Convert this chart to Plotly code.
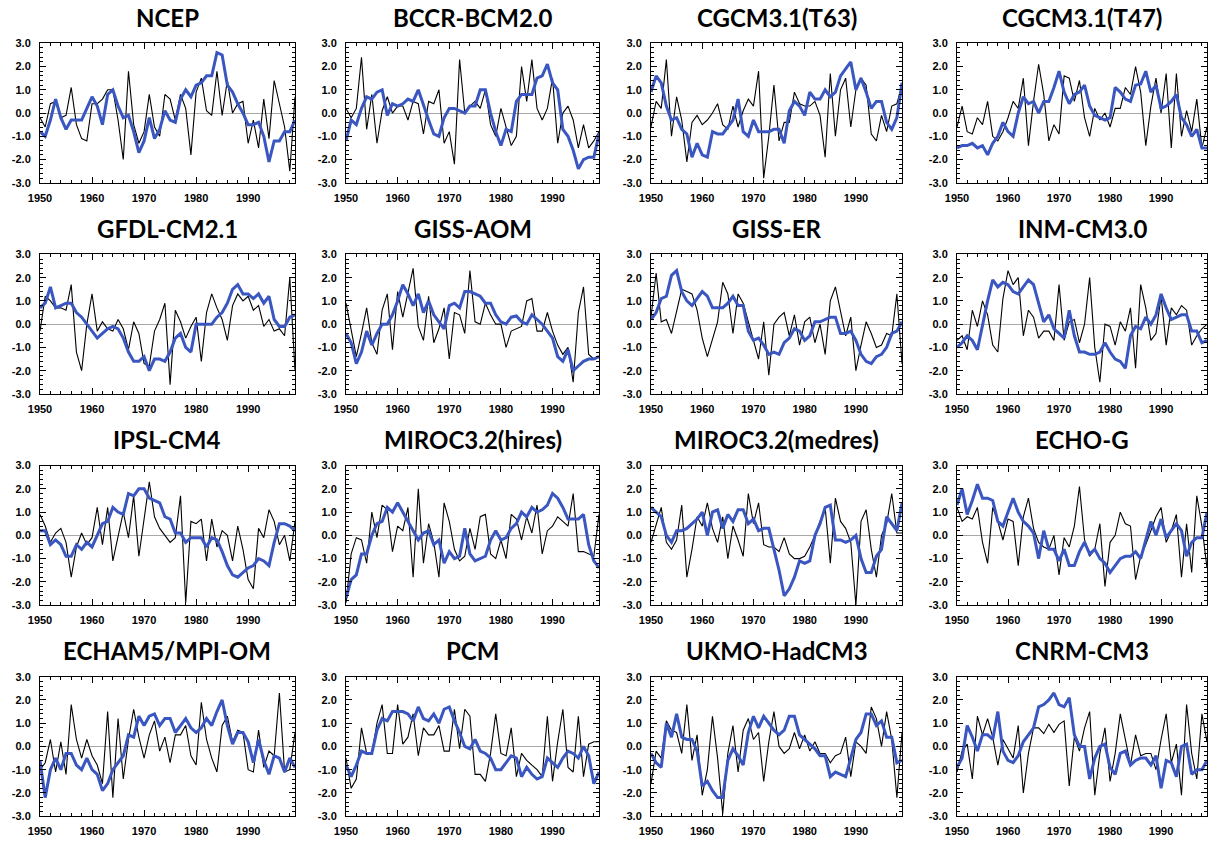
import plotly.graph_objects as go

years = list(range(1950, 2000))
x_tick_vals = [1950, 1960, 1970, 1980, 1990]
x_tick_text = ["1950", "1960", "1970", "1980", "1990"]
y_tick_vals = [-3, -2, -1, 0, 1, 2, 3]
y_tick_text = ["-3.0", "-2.0", "-1.0", "0.0", "1.0", "2.0", "3.0"]

titles = ["NCEP", "BCCR-BCM2.0", "CGCM3.1(T63)", "CGCM3.1(T47)",
          "GFDL-CM2.1", "GISS-AOM", "GISS-ER", "INM-CM3.0",
          "IPSL-CM4", "MIROC3.2(hires)", "MIROC3.2(medres)", "ECHO-G",
          "ECHAM5/MPI-OM", "PCM", "UKMO-HadCM3", "CNRM-CM3"]

ncep_annual = [-0.2, -0.6, 0.4, 0.5, -0.2, -0.1, 1.1, -0.5, -1.1, -1.2,
               0.4, 0.4, 0.6, 1.0, 1.0, -0.3, -2.0, 1.8, -0.5, -1.3,
               -0.8, 0.8, -0.6, -1.0, 0.8, 0.6, -0.3, 0.8, 0.2, -1.8,
               0.9, 1.5, 0.1, -0.1, 1.8, -0.1, 1.4, 0.0, 0.4, 0.5,
               -1.3, -0.3, -1.5, 0.6, -1.1, 1.4, 0.4, -0.6, -2.5, 0.7]
ncep_smooth = [-0.8, -1.0, -0.3, 0.6, -0.2, -0.7, -0.3, -0.3, -0.3, 0.2,
               0.7, 0.3, -0.5, 0.8, 1.0, 0.3, -0.2, -0.1, -0.8, -1.7,
               -1.2, -0.2, -1.1, -0.7, 0.1, -0.3, -0.4, 0.6, 1.0, 0.7,
               1.2, 1.3, 1.6, 1.6, 2.6, 2.5, 1.2, 0.9, 0.4, 0.0,
               -0.5, -0.5, -0.4, -1.0, -2.1, -1.2, -1.2, -0.8, -0.8, -0.3]

bccr_annual = [0.2, -0.2, 0.2, 2.4, -0.7, 0.8, -1.3, 0.1, 0.7, 0.0,
               0.3, 0.3, -0.3, 0.5, 0.4, -0.9, 0.5, 0.4, 1.0, -1.3,
               -0.8, -2.2, 2.3, 0.0, 0.3, 0.5, 0.2, 1.0, -0.5, -1.0,
               0.2, -0.6, -1.4, -1.0, 2.0, 0.5, 2.3, 0.2, -0.3, 0.2,
               1.5, -1.3, 0.0, 0.3, -0.3, -1.5, -0.5, -1.5, -1.2, -0.8]
bccr_smooth = [-1.2, -0.3, -0.5, 0.2, 0.7, 0.6, 0.9, 1.0, -0.1, 0.4,
               0.3, 0.4, 0.6, 0.5, 1.0, 0.3, -0.3, -0.9, -1.0, -0.2,
               0.2, 0.2, 0.1, 0.0, 0.3, 0.3, 1.0, 1.0, 0.0, -0.8,
               -1.4, -0.7, -0.8, 0.5, 0.8, 0.8, 0.8, 1.5, 1.6, 2.1,
               1.3, 1.0, -0.7, -1.0, -1.6, -2.4, -2.0, -1.9, -1.9, -0.9]

t63_annual = [-0.6, 0.5, 0.2, 2.3, -1.0, 0.7, -0.3, -2.1, -0.4, -0.1,
              -0.5, -0.3, 0.0, 0.4, -0.5, -0.7, 0.3, -0.6, 0.1, 0.6,
              0.3, 1.8, -2.8, -1.0, 1.2, -1.2, -0.4, -0.4, 0.9, 0.4,
              0.3, 0.3, 0.5, -0.1, -1.9, 1.7, -1.0, 1.0, 1.5, -0.6,
              1.0, 1.5, 1.2, -0.9, -1.2, -0.1, -0.8, 0.3, 0.4, 1.2]
t63_smooth = [0.9, 1.6, 1.3, 0.3, -0.3, -0.2, -0.7, -0.9, -1.9, -1.3,
              -1.8, -1.9, -0.8, -0.9, -0.9, -0.6, -0.3, 0.6, -0.8, -1.0,
              -0.3, -0.8, -0.8, -0.8, -0.7, -0.7, -1.3, 0.1, 0.5, 0.3,
              -0.1, 0.9, 0.6, 0.6, 1.0, 0.7, 0.9, 1.6, 1.9, 2.2,
              1.0, 1.5, 0.9, 0.2, 0.5, 0.5, -0.4, -0.7, -0.2, 1.3]

t47_annual = [-0.6, 0.3, -0.8, -0.9, -0.2, -0.5, 0.5, -1.0, -1.2, -0.8,
              -0.2, 0.5, 0.2, 1.5, -1.4, 0.5, 2.1, 0.8, -1.2, -0.5,
              -0.9, 1.6, 1.5, 0.5, 1.4, -0.2, -1.0, 0.2, -0.3, 0.0,
              -0.6, 0.2, 0.2, 1.1, 0.8, 2.0, 0.9, -1.4, 0.3, 1.5,
              0.0, 1.7, -1.5, 1.7, -1.0, 0.1, -0.8, 0.6, -1.5, -0.6]
t47_smooth = [-1.5, -1.4, -1.4, -1.3, -1.5, -1.4, -1.8, -1.3, -1.0, -0.4,
              -0.8, -1.0, 0.0, 0.7, 0.4, 0.5, 0.0, 0.5, 0.5, 1.1,
              1.8, 0.9, 0.4, 0.8, 0.9, 1.2, 0.3, -0.1, -0.2, -0.3,
              -0.2, 1.1, 0.9, 0.6, 0.5, 1.2, 1.25, 1.8, 0.9, 1.2,
              0.2, 0.3, 0.5, 0.8, -0.2, -0.5, -1.0, -0.7, -1.5, -1.5]

gfdl_annual = [-0.3, 1.2, 1.0, 0.7, 0.7, 0.6, 1.7, -1.2, -2.0, 0.0,
               1.3, -0.3, 0.1, -0.2, -0.3, 0.2, -0.2, -1.1, 0.1, -0.4,
               -1.7, -1.8, -0.3, 0.2, 0.9, -2.6, 0.6, 0.1, -0.6, -0.1,
               0.3, -1.6, 0.5, 1.3, 0.7, 0.2, -0.7, 0.8, 1.3, 1.0,
               1.2, 0.6, 0.8, -0.1, 0.2, -0.3, -0.2, -0.5, 2.0, -2.0]
gfdl_smooth = [0.7, 0.9, 1.6, 0.7, 0.8, 0.9, 0.9, 0.5, 0.3, 0.0,
               -0.3, -0.6, -0.4, -0.2, -0.1, -0.2, -0.6, -1.2, -1.6, -1.6,
               -1.4, -2.0, -1.5, -1.5, -1.6, -1.2, -0.6, -0.4, -1.0, -1.2,
               0.0, 0.0, 0.0, 0.0, 0.3, 0.5, 0.9, 1.5, 1.7, 1.3,
               1.3, 1.1, 1.3, 0.9, 1.2, 0.2, -0.1, -0.1, 0.3, 0.4]

aom_annual = [0.9, -0.3, -1.4, -0.4, 0.7, -0.8, -1.3, 0.6, 1.3, -1.1,
              1.4, 0.3, 1.3, 2.4, -0.1, -0.7, 1.2, -0.8, -0.2, 0.7,
              -1.5, 0.5, 0.4, -0.4, 2.3, 0.1, 0.0, 0.9, 0.4, 0.0,
              0.0, -1.0, -0.3, -0.2, -0.1, 1.0, 1.1, -0.3, -0.3, 0.5,
              -0.3, -0.9, -1.3, -1.0, -2.5, 0.5, 1.6, -1.3, -1.5, -1.4]
aom_smooth = [-0.4, -0.8, -1.7, -1.2, -0.3, -0.9, -0.4, 0.0, 0.0, 0.4,
              1.0, 1.7, 1.3, 0.8, 1.3, 0.5, 1.0, 0.4, 0.1, -0.2,
              0.8, 0.9, 0.7, 1.4, 1.4, 1.3, 1.2, 0.9, 0.9, 0.4,
              0.1, 0.0, 0.3, 0.35, 0.1, 0.0, 0.4, 0.2, 0.0, -0.3,
              -0.6, -1.4, -1.6, -1.1, -2.0, -1.8, -1.6, -1.5, -1.5, -1.4]

er_annual = [0.3, 2.2, 0.1, 0.2, -0.4, 0.5, 1.5, 1.4, 1.3, 0.6,
             -0.6, -1.4, -0.6, 0.1, 1.8, 1.3, -0.4, 1.3, 0.9, 0.1,
             -0.7, -1.5, 0.1, -2.2, 0.0, 0.3, 0.5, -0.5, 0.4, -0.9,
             0.1, 0.3, -0.8, 0.0, -1.3, 1.0, 1.6, 0.5, -0.5, 0.3,
             -2.0, -0.9, 0.1, -0.4, -1.0, -0.9, -0.4, -0.5, 1.3, -1.7]
er_smooth = [0.2, 0.5, 1.1, 1.2, 2.1, 2.3, 1.4, 1.0, 0.8, 1.1,
             1.4, 1.2, 0.7, 0.7, 0.7, 0.9, 1.2, 0.8, 0.8, -0.3,
             -0.7, -0.6, -0.9, -1.3, -1.2, -1.3, -0.8, -0.6, -0.2, -0.3,
             -0.7, -0.5, 0.1, 0.1, 0.2, 0.3, 0.3, -0.4, -0.4, -0.3,
             -0.7, -1.3, -1.6, -1.7, -1.4, -1.3, -1.0, -0.4, -0.3, 0.1]

inm_annual = [-0.7, -0.5, -1.1, 0.6, -0.1, 1.0, 0.4, -0.9, -1.2, 1.1,
              2.3, 1.7, 2.0, -0.5, 0.6, 0.3, -0.6, -0.3, -0.3, -0.7,
              1.7, -0.7, 0.1, 0.2, -0.8, 0.0, 2.0, -1.0, -2.5, 0.0,
              -0.1, -0.9, 0.1, -0.3, 0.7, -1.9, 1.7, 0.7, -0.7, -0.4,
              1.2, -0.9, 0.7, 0.4, 0.8, 0.6, -0.9, -0.5, -0.2, 0.0]
inm_smooth = [-1.0, -0.8, -0.5, -0.7, -1.1, 0.0, 1.0, 1.9, 1.6, 1.8,
              1.7, 1.4, 1.3, 1.6, 1.9, 1.7, 0.9, 0.1, 0.4, -0.2,
              -0.4, -0.6, 0.6, -0.5, -1.2, -1.2, -1.3, -1.3, -1.2, -0.8,
              -1.2, -1.5, -1.6, -1.9, -0.5, -0.1, -0.2, 0.3, 0.0, 0.4,
              1.3, 0.7, 0.2, 0.3, 0.4, 0.4, -0.3, -0.3, -0.8, -0.7]

ipsl_annual = [0.9, 0.4, -0.3, 0.1, 0.3, -0.3, -1.8, -0.5, 0.1, -0.4,
               -0.1, 1.2, -0.4, 1.2, -1.1, 0.0, 1.0, -0.1, 1.7, -0.9,
               0.8, 2.3, 0.8, 0.3, 0.0, -0.3, -0.1, 1.7, -2.9, 0.6,
               0.5, 0.7, -1.1, 0.7, -0.5, 0.2, 0.0, -1.1, 0.4, -0.6,
               -1.9, -2.3, 0.3, -0.1, 1.1, 0.6, -0.4, 0.0, -1.1, 0.6]
ipsl_smooth = [0.2, 0.2, -0.4, -0.2, -0.4, -0.9, -0.9, -0.4, -0.6, -0.3,
               -0.5, 0.0, 0.5, 0.6, 1.2, 1.0, 0.9, 1.8, 1.7, 2.0,
               2.0, 1.6, 1.5, 1.4, 0.8, 0.7, 0.1, 0.1, -0.3, -0.1,
               -0.1, -0.1, -0.5, -0.1, -0.2, -0.7, -1.3, -1.7, -1.8, -1.6,
               -1.4, -1.3, -1.0, -1.1, -1.3, -0.3, 0.5, 0.5, 0.4, 0.2]

mhi_annual = [-2.9, -0.8, -0.1, -0.2, -1.2, 1.0, -0.1, 1.3, 1.1, -0.7,
              0.4, 0.2, 1.2, -1.8, 2.0, -1.2, 0.5, -0.3, -1.8, 1.4,
              0.6, -0.6, -1.1, -0.9, 0.3, -0.6, 0.8, 0.9, -0.8, -1.0,
              -0.2, -1.0, 0.9, 0.7, -0.2, 0.8, 0.1, 1.3, -0.8, 0.2,
              0.4, 0.8, 0.6, 0.4, 1.8, -0.7, -0.7, -0.8, -0.9, 0.9]
mhi_smooth = [-2.7, -1.9, -1.7, -0.8, -0.8, 0.0, 0.5, 0.6, 1.2, 1.0,
              1.4, 1.0, 0.6, 0.2, -0.2, 0.1, 0.2, -0.4, -0.2, -1.2,
              -0.7, -1.0, -0.9, 0.3, -0.8, -1.1, -1.0, -0.9, -0.2, 0.2,
              -0.2, -0.1, 0.3, 0.5, 1.0, 0.8, 1.2, 1.0, 1.1, 1.3,
              1.8, 1.6, 1.2, 0.7, 0.7, 0.7, 0.9, -0.4, -1.1, -1.4]

mmed_annual = [-0.3, 0.4, 1.2, -0.3, -0.6, -0.2, 1.3, -1.8, -0.6, 0.8,
               0.4, 1.4, 0.3, -0.3, 0.8, -1.0, 0.4, -0.2, -0.9, 1.8,
               0.5, 1.4, -0.4, -0.5, -0.5, -0.7, -0.1, -0.8, -1.0, -1.0,
               -0.9, -0.5, 0.0, 0.6, 1.2, -1.2, 1.6, 0.6, 0.3, -0.3,
               -3.0, 0.6, 1.1, -0.6, -1.8, 0.0, 0.5, 1.8, 0.1, 0.1]
mmed_smooth = [1.2, 1.0, 0.8, 0.0, -0.3, 0.2, 0.2, 0.3, 0.5, 0.7,
               1.0, 0.0, 1.0, 1.1, 0.3, 0.9, 0.6, 1.1, 1.1, 0.5,
               0.7, 0.2, 0.3, 0.3, -0.6, -1.5, -2.6, -2.3, -1.8, -1.1,
               -1.2, -1.1, 0.0, 0.5, 1.2, 1.3, -0.2, -0.2, -0.3, -0.2,
               0.0, -1.0, -1.6, -1.6, -0.9, -0.6, 0.8, 0.5, 0.2, 1.4]

echo_annual = [1.2, 0.6, 0.8, 0.7, 1.2, -0.3, -1.2, 1.2, 0.6, -0.2,
               0.7, 0.6, -1.3, 0.8, 1.6, 0.3, -0.3, -0.5, -0.6, 0.0,
               -1.7, -0.1, -0.5, 0.4, 2.1, -0.2, -0.9, -0.6, 0.5, -2.2,
               -0.3, 0.0, 1.0, 0.5, 0.4, -1.9, -0.9, -0.4, 0.2, 0.8,
               1.2, -0.3, 0.2, 0.9, -1.8, 0.5, -1.6, 1.7, 0.4, -1.4]
echo_smooth = [1.3, 2.0, 0.9, 1.5, 2.2, 1.6, 1.6, 1.5, 0.6, 0.4,
               1.0, 1.6, 1.0, 0.6, 0.4, 0.1, -1.0, 0.2, -0.6, -0.6,
               -1.1, -0.6, -1.3, -1.3, -0.7, -0.3, -0.8, -0.6, -1.0, -1.2,
               -1.6, -1.3, -1.0, -0.9, -0.9, -0.7, -1.0, -0.2, 0.6, 0.0,
               0.7, -0.1, 0.2, 0.5, 0.2, -0.9, -0.3, -0.1, -0.1, 1.0]

echam_annual = [-1.0, -0.7, 0.3, -1.1, 0.2, -1.2, 1.8, 0.3, -0.5, 0.3,
                -0.4, -0.8, -1.6, 1.5, -2.2, 1.2, -1.4, 0.3, 1.6, 0.4,
                -0.5, 0.5, 1.1, -0.2, 0.4, -0.7, 0.5, 0.5, 0.9, -0.4,
                -0.8, 1.9, 0.3, -0.5, -1.1, 0.9, 1.3, 0.2, 0.7, 0.6,
                -1.0, -1.1, 0.7, -0.9, -0.2, -0.4, 2.3, -1.1, -1.0, 0.6]
echam_smooth = [-0.6, -2.2, -1.0, -0.5, -1.0, -0.3, -0.3, -0.8, -1.0, -0.5,
                -1.0, -1.2, -1.9, -1.6, -1.0, -0.7, -0.4, 0.5, 0.4, 1.3,
                0.9, 1.3, 1.4, 0.9, 1.2, 1.2, 0.6, 0.9, 1.2, 0.8,
                0.6, 0.8, 1.2, 0.9, 1.5, 2.0, 0.9, 0.1, 0.6, 0.6,
                0.2, -0.7, 0.3, -0.6, -1.2, -0.4, -0.5, -1.1, -0.5, -0.9]

pcm_annual = [-0.5, -1.8, -1.4, 0.8, -0.3, -0.3, 1.0, 1.8, -0.3, -0.3,
              1.8, 0.1, 0.4, 1.4, -0.4, 0.8, 0.5, 0.5, 0.9, -0.2,
              -0.2, 1.6, -0.1, 1.6, 1.3, -1.2, -1.2, -1.5, -0.3, 1.4,
              -0.3, -0.4, 0.8, -1.3, -0.3, -0.6, -0.8, -1.0, -1.3, 1.3,
              -1.5, 0.2, 1.6, -0.9, -1.1, 1.3, -1.3, 0.1, 0.2, 0.2]
pcm_smooth = [-0.8, -1.3, -0.8, -0.2, -0.3, -0.3, 0.7, 1.2, 1.1, 1.5,
              1.5, 1.5, 1.4, 1.1, 1.7, 1.2, 1.1, 1.4, 1.0, 1.6,
              1.7, 1.1, 0.6, 0.0, -0.1, 0.3, -0.2, -0.3, -0.5, -1.0,
              -1.0, -0.7, -0.4, -0.5, -1.3, -0.9, -1.2, -1.4, -1.3, -0.5,
              -0.7, -0.9, -0.5, -0.2, -0.3, -0.5, 0.0, -0.4, -1.6, -1.1]

ukmo_annual = [-1.6, -0.2, -0.5, 1.1, 0.7, 0.6, -0.3, 1.8, -0.6, 0.5,
               -2.1, -1.0, 1.3, -0.5, -2.9, -0.3, 0.9, -1.1, 0.7, 1.2,
               0.3, 0.6, -1.5, 0.2, 1.5, 0.0, -0.3, -0.1, 0.6, -0.1,
               0.5, -0.2, 0.2, -0.3, -0.3, -0.7, -0.4, -0.3, 0.4, -1.3,
               0.2, 0.0, -0.3, 1.7, 1.2, 0.0, 1.5, 0.3, -2.2, 0.6]
ukmo_smooth = [-0.3, -0.7, -0.9, 1.0, 0.4, 1.4, 0.4, 0.3, 0.3, -0.2,
               -1.7, -1.5, -1.9, -2.2, -2.2, -0.6, -0.1, -0.4, -0.8, 0.6,
               1.3, 0.8, 1.3, 1.0, 0.7, 0.5, 0.7, 1.3, 1.3, 0.5,
               0.3, 0.1, -0.1, -0.4, -0.4, -1.3, -1.1, -1.2, -1.3, -0.5,
               0.3, 0.6, 1.4, 1.4, 0.9, 1.1, 0.4, 0.4, -0.7, -0.6]

cnrm_annual = [-1.1, -0.2, 0.1, -1.4, 1.3, 0.5, 1.2, 0.4, -0.8, 0.3,
               -0.1, -0.5, 0.9, -2.0, -0.3, 0.8, 0.8, 0.55, 0.95, 0.6,
               0.95, 1.1, -1.7, 0.4, -0.2, 0.8, 1.5, -2.1, -0.3, 0.8,
               -1.5, -0.3, 1.4, 0.3, -0.8, 0.5, -0.4, -0.3, -0.3, -1.0,
               0.3, 1.4, -0.7, 0.1, -2.1, 1.8, -0.3, -1.4, 1.4, 0.2]
cnrm_smooth = [-0.9, -0.5, 0.9, 0.4, -0.2, 0.5, 0.5, 0.3, 1.5, -0.2,
               -0.6, -0.7, -0.4, 0.2, 0.5, 0.8, 1.7, 1.8, 2.0, 2.3,
               1.8, 1.7, 2.1, 0.5, 0.0, 0.0, -1.4, -0.5, 0.0, 0.1,
               -0.9, -1.2, -0.3, -0.2, -0.8, -0.6, -0.5, -0.5, -0.8, -0.4,
               -1.8, -0.6, -0.7, -1.3, 0.0, 0.1, -1.2, -1.0, -1.0, -0.6]

annual_series = [ncep_annual, bccr_annual, t63_annual, t47_annual,
                 gfdl_annual, aom_annual, er_annual, inm_annual,
                 ipsl_annual, mhi_annual, mmed_annual, echo_annual,
                 echam_annual, pcm_annual, ukmo_annual, cnrm_annual]
smooth_series = [ncep_smooth, bccr_smooth, t63_smooth, t47_smooth,
                 gfdl_smooth, aom_smooth, er_smooth, inm_smooth,
                 ipsl_smooth, mhi_smooth, mmed_smooth, echo_smooth,
                 echam_smooth, pcm_smooth, ukmo_smooth, cnrm_smooth]

# ---- layout (pixels) ----
W, H = 1213, 845
col_left = [40, 346, 651, 957]
col_width = [255, 253, 251, 250]
row_top = [43.3, 254.4, 465.6, 676.7]
row_height = 139.5

BLUE = "#3a56c0"
tick_font = dict(family="Liberation Sans, Arial, sans-serif", size=11, color="black", weight="bold")

fig = go.Figure()
annotations = []
layout_axes = {}
for i in range(16):
    r, c = divmod(i, 4)
    sfx = "" if i == 0 else str(i + 1)
    xa, ya = "x" + sfx, "y" + sfx
    fig.add_trace(go.Scatter(x=years, y=annual_series[i], xaxis=xa, yaxis=ya,
                             mode="lines", line=dict(color="black", width=1.1),
                             showlegend=False, hoverinfo="skip"))
    fig.add_trace(go.Scatter(x=years, y=smooth_series[i], xaxis=xa, yaxis=ya,
                             mode="lines", line=dict(color=BLUE, width=3),
                             showlegend=False, hoverinfo="skip"))
    L = col_left[c]
    R = L + col_width[c]
    T = row_top[r]
    B = T + row_height
    layout_axes["xaxis" + sfx] = dict(
        domain=[L / W, R / W], anchor=ya, range=[1950, 1999], automargin=False,
        tickmode="array", tickvals=x_tick_vals, ticktext=x_tick_text,
        ticks="inside", ticklen=6, tickwidth=1, tickcolor="black",
        showline=True, linecolor="black", linewidth=1, mirror="ticks",
        showgrid=False, zeroline=False, tickfont=tick_font,
        ticklabelstandoff=5,
        minor=dict(tickmode="linear", tick0=1950, dtick=2, ticks="inside",
                   ticklen=3, tickwidth=1, tickcolor="black", showgrid=False),
    )
    layout_axes["yaxis" + sfx] = dict(
        domain=[1 - B / H, 1 - T / H], anchor=xa, range=[-3, 3], automargin=False,
        tickmode="array", tickvals=y_tick_vals, ticktext=y_tick_text,
        ticks="inside", ticklen=6, tickwidth=1, tickcolor="black",
        showline=True, linecolor="black", linewidth=1, mirror="ticks",
        showgrid=False, zeroline=True, zerolinecolor="#a8a8a8", zerolinewidth=1.2,
        tickfont=tick_font, ticklabelstandoff=6,
        minor=dict(tickmode="linear", tick0=-3, dtick=0.2, ticks="inside",
                   ticklen=3, tickwidth=1, tickcolor="black", showgrid=False),
    )
    annotations.append(dict(
        text=titles[i], xref="paper", yref="paper",
        x=(L + R) / 2 / W, y=1 - (T - 26) / H,
        xanchor="center", yanchor="middle", showarrow=False,
        font=dict(family="Lato, Open Sans, sans-serif", size=24, color="black", weight="bold"),
    ))

fig.update_layout(
    width=W, height=H,
    margin=dict(l=0, r=0, t=0, b=0, autoexpand=False),
    paper_bgcolor="white", plot_bgcolor="white",
    annotations=annotations,
    showlegend=False,
    **layout_axes,
)

fig.write_html("out.html")
